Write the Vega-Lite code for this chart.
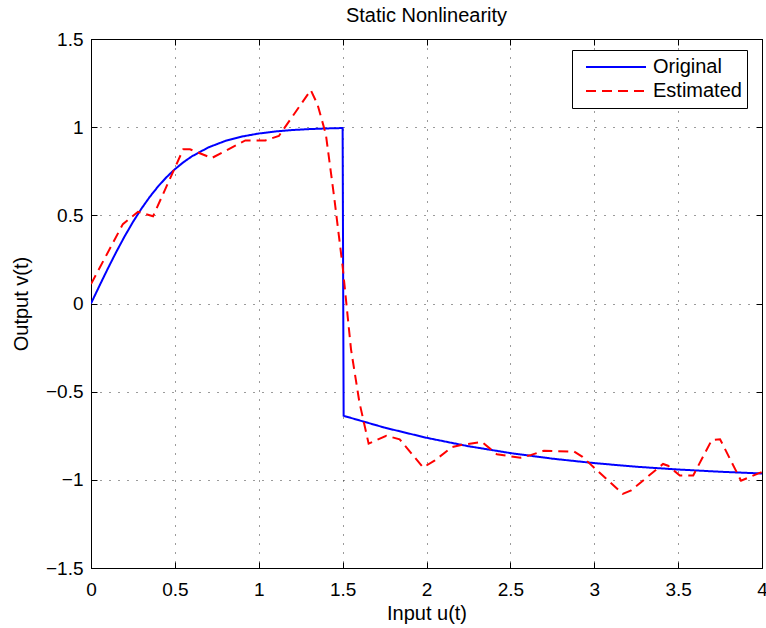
{
  "$schema": "https://vega.github.io/schema/vega-lite/v6.json",
  "width": 671,
  "height": 529,
  "autosize": {"type": "none"},
  "padding": {"left": 91, "top": 39, "right": 4, "bottom": 60},
  "background": "white",
  "title": {"text": "Static Nonlinearity", "font": "Liberation Sans", "fontSize": 20, "fontWeight": "normal", "color": "black", "offset": 4, "anchor": "middle"},
  "config": {
    "view": {"stroke": "black", "strokeWidth": 1},
    "font": "Liberation Sans",
    "axis": {"labelFont": "Liberation Sans", "titleFont": "Liberation Sans", "labelFontSize": 19, "titleFontSize": 20, "titleFontWeight": "normal", "labelColor": "black", "titleColor": "black", "domainColor": "black", "tickColor": "black", "gridColor": "#222", "gridOpacity": 0.9, "gridDash": [1, 8], "gridWidth": 1, "tickSize": -6, "labelFlush": false, "labelOverlap": false, "format": "~g"}
  },
  "data": {"values": [
    {"u": 0, "v": 0, "s": "Original"},
    {"u": 0.05, "v": 0.0997, "s": "Original"},
    {"u": 0.1, "v": 0.1974, "s": "Original"},
    {"u": 0.15, "v": 0.2913, "s": "Original"},
    {"u": 0.2, "v": 0.3799, "s": "Original"},
    {"u": 0.25, "v": 0.4621, "s": "Original"},
    {"u": 0.3, "v": 0.537, "s": "Original"},
    {"u": 0.35, "v": 0.6044, "s": "Original"},
    {"u": 0.4, "v": 0.664, "s": "Original"},
    {"u": 0.45, "v": 0.7163, "s": "Original"},
    {"u": 0.5, "v": 0.7616, "s": "Original"},
    {"u": 0.55, "v": 0.8005, "s": "Original"},
    {"u": 0.6, "v": 0.8337, "s": "Original"},
    {"u": 0.7, "v": 0.8854, "s": "Original"},
    {"u": 0.8, "v": 0.9217, "s": "Original"},
    {"u": 0.9, "v": 0.9468, "s": "Original"},
    {"u": 1.0, "v": 0.964, "s": "Original"},
    {"u": 1.1, "v": 0.9757, "s": "Original"},
    {"u": 1.2, "v": 0.9837, "s": "Original"},
    {"u": 1.3, "v": 0.989, "s": "Original"},
    {"u": 1.4, "v": 0.9926, "s": "Original"},
    {"u": 1.5, "v": 0.9951, "s": "Original"},
    {"u": 1.506, "v": -0.637, "s": "Original"},
    {"u": 1.75, "v": -0.7039, "s": "Original"},
    {"u": 2.0, "v": -0.7616, "s": "Original"},
    {"u": 2.25, "v": -0.8093, "s": "Original"},
    {"u": 2.5, "v": -0.8483, "s": "Original"},
    {"u": 2.75, "v": -0.8799, "s": "Original"},
    {"u": 3.0, "v": -0.9051, "s": "Original"},
    {"u": 3.25, "v": -0.9257, "s": "Original"},
    {"u": 3.5, "v": -0.9414, "s": "Original"},
    {"u": 3.75, "v": -0.9541, "s": "Original"},
    {"u": 4.0, "v": -0.964, "s": "Original"},
    {"u": 0, "v": 0.11, "s": "Estimated"},
    {"u": 0.19, "v": 0.45, "s": "Estimated"},
    {"u": 0.28, "v": 0.52, "s": "Estimated"},
    {"u": 0.37, "v": 0.495, "s": "Estimated"},
    {"u": 0.55, "v": 0.875, "s": "Estimated"},
    {"u": 0.59, "v": 0.875, "s": "Estimated"},
    {"u": 0.72, "v": 0.825, "s": "Estimated"},
    {"u": 0.92, "v": 0.925, "s": "Estimated"},
    {"u": 1.04, "v": 0.925, "s": "Estimated"},
    {"u": 1.12, "v": 0.95, "s": "Estimated"},
    {"u": 1.31, "v": 1.21, "s": "Estimated"},
    {"u": 1.35, "v": 1.13, "s": "Estimated"},
    {"u": 1.4, "v": 0.96, "s": "Estimated"},
    {"u": 1.45, "v": 0.6, "s": "Estimated"},
    {"u": 1.5, "v": 0.21, "s": "Estimated"},
    {"u": 1.55, "v": -0.26, "s": "Estimated"},
    {"u": 1.6, "v": -0.56, "s": "Estimated"},
    {"u": 1.655, "v": -0.795, "s": "Estimated"},
    {"u": 1.76, "v": -0.75, "s": "Estimated"},
    {"u": 1.84, "v": -0.77, "s": "Estimated"},
    {"u": 1.98, "v": -0.93, "s": "Estimated"},
    {"u": 2.05, "v": -0.89, "s": "Estimated"},
    {"u": 2.15, "v": -0.815, "s": "Estimated"},
    {"u": 2.22, "v": -0.8, "s": "Estimated"},
    {"u": 2.33, "v": -0.785, "s": "Estimated"},
    {"u": 2.42, "v": -0.855, "s": "Estimated"},
    {"u": 2.56, "v": -0.875, "s": "Estimated"},
    {"u": 2.62, "v": -0.86, "s": "Estimated"},
    {"u": 2.7, "v": -0.835, "s": "Estimated"},
    {"u": 2.88, "v": -0.84, "s": "Estimated"},
    {"u": 2.93, "v": -0.87, "s": "Estimated"},
    {"u": 3.17, "v": -1.08, "s": "Estimated"},
    {"u": 3.22, "v": -1.06, "s": "Estimated"},
    {"u": 3.41, "v": -0.91, "s": "Estimated"},
    {"u": 3.44, "v": -0.92, "s": "Estimated"},
    {"u": 3.51, "v": -0.975, "s": "Estimated"},
    {"u": 3.59, "v": -0.975, "s": "Estimated"},
    {"u": 3.7, "v": -0.775, "s": "Estimated"},
    {"u": 3.75, "v": -0.77, "s": "Estimated"},
    {"u": 3.875, "v": -1.005, "s": "Estimated"},
    {"u": 4.0, "v": -0.955, "s": "Estimated"}
  ]},
  "layer": [
    {
      "mark": {"type": "line", "strokeWidth": 2, "clip": true},
      "encoding": {
        "x": {"field": "u", "type": "quantitative", "scale": {"domain": [0, 4], "nice": false, "zero": false},
              "axis": {"orient": "bottom", "values": [0, 0.5, 1, 1.5, 2, 2.5, 3, 3.5, 4], "title": "Input u(t)", "labelPadding": 18, "titlePadding": 4, "grid": true}},
        "y": {"field": "v", "type": "quantitative", "scale": {"domain": [-1.5, 1.5], "nice": false, "zero": false},
              "axis": {"orient": "left", "values": [-1.5, -1, -0.5, 0, 0.5, 1, 1.5], "title": "Output v(t)", "labelPadding": 14, "titlePadding": 14, "grid": true}},
        "color": {"field": "s", "type": "nominal", "scale": {"domain": ["Original", "Estimated"], "range": ["#0000ff", "#ff0000"]},
                  "legend": {"title": null, "orient": "none", "legendX": 481, "legendY": 11, "strokeColor": "black", "fillColor": "white", "padding": 5, "labelFontSize": 20, "labelFont": "Liberation Sans", "labelColor": "black", "symbolType": "stroke", "symbolSize": 3600, "clipHeight": 24, "symbolStrokeWidth": 2, "symbolOffset": 8, "rowPadding": 0, "labelOffset": 6}},
        "strokeDash": {"field": "s", "type": "nominal", "scale": {"domain": ["Original", "Estimated"], "range": [[1, 0], [10, 6]]}, "legend": null}
      }
    },
    {
      "mark": {"type": "line", "opacity": 0},
      "encoding": {
        "x": {"field": "u", "type": "quantitative", "scale": {"domain": [0, 4], "nice": false, "zero": false},
              "axis": {"orient": "top", "values": [0, 0.5, 1, 1.5, 2, 2.5, 3, 3.5, 4], "title": null, "labels": false, "grid": false}},
        "y": {"field": "v", "type": "quantitative", "scale": {"domain": [-1.5, 1.5], "nice": false, "zero": false},
              "axis": {"orient": "right", "values": [-1.5, -1, -0.5, 0, 0.5, 1, 1.5], "title": null, "labels": false, "grid": false}},
        "detail": {"field": "s"}
      }
    }
  ],
  "resolve": {"axis": {"x": "independent", "y": "independent"}}
}
